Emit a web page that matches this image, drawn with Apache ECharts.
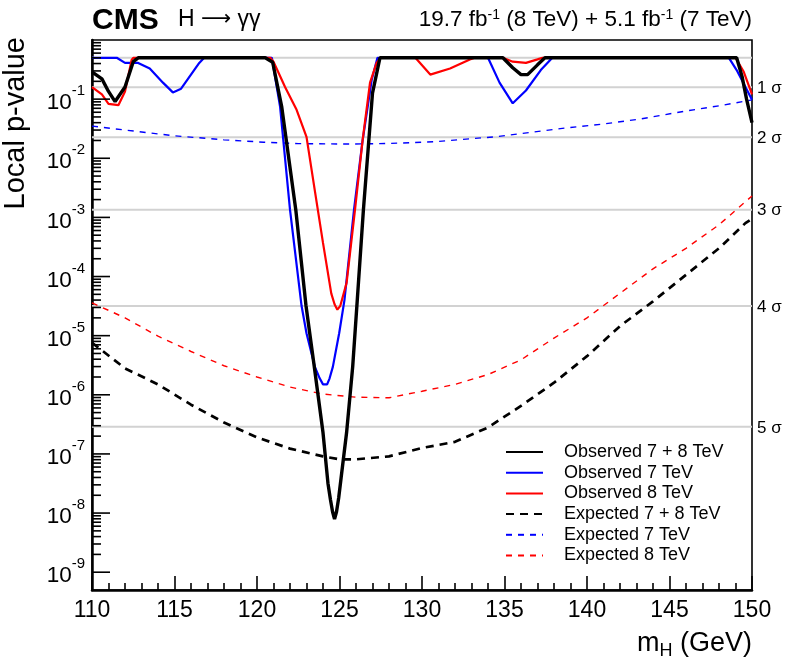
<!DOCTYPE html>
<html><head><meta charset="utf-8">
<script src="https://cdn.jsdelivr.net/npm/echarts@6/dist/echarts.min.js"></script>
<style>html,body{margin:0;padding:0;background:#fff}#c{width:786px;height:671px}</style>
</head><body><div id="c"></div>
<script>
// ---------- data (mass in GeV, local p-value) ----------
const massObs78 = [110,110.6,111.0,111.4,112.0,112.5,112.8,120.5,120.95,121.5,122.35,122.97,123.47,124.0,124.3,124.45,124.58,124.7,124.82,124.95,125.1,125.43,125.8,126.08,126.45,127.0,127.45,134.9,135.5,136.0,136.4,137.0,137.45,149.07,149.4,149.67,150];
const pObs78    = [0.29,0.22,0.135,0.091,0.16,0.43,0.5,0.5,0.42,0.074,1.35e-3,3.2e-5,3.0e-6,2.3e-7,3.2e-8,1.7e-8,1.05e-8,7.9e-9,1.05e-8,1.8e-8,4.0e-8,2.3e-7,3.0e-6,4.1e-5,1.35e-3,0.126,0.5,0.5,0.34,0.26,0.26,0.38,0.5,0.5,0.24,0.10,0.04];

const massObs7 = [110,111.5,112.0,112.8,113.5,114.3,114.9,115.4,116.5,116.8,120.9,121.4,122.0,122.7,123.0,123.5,123.8,124.0,124.12,124.25,124.4,124.6,124.98,125.3,125.88,126.4,126.95,127.3,134.0,134.7,135.5,136.3,137.2,137.9,148.6,149.07,150];
const pObs7    = [0.5,0.5,0.41,0.41,0.33,0.19,0.13,0.15,0.41,0.5,0.5,0.074,1.35e-3,3.2e-5,1.1e-5,3.0e-6,1.9e-6,1.5e-6,1.4e-6,1.5e-6,1.9e-6,3.0e-6,1.1e-5,4.0e-5,1.35e-3,0.02,0.21,0.5,0.5,0.19,0.085,0.14,0.31,0.5,0.5,0.31,0.098];

const massObs8 = [110,110.6,111.0,111.6,112.0,112.4,112.5,120.8,121.0,121.7,122.4,123.0,123.5,124.0,124.5,124.7,124.87,125.05,125.43,125.94,126.4,126.85,127.25,127.5,129.6,130.5,131.7,132.9,133.2,134.9,135.5,136.3,137.0,137.3,149.0,149.5,150];
const pObs8    = [0.16,0.12,0.083,0.079,0.135,0.46,0.5,0.5,0.43,0.16,0.066,0.023,2.9e-3,3.7e-4,5.2e-5,3.4e-5,2.75e-5,3.2e-5,7.8e-5,1.35e-3,0.020,0.19,0.41,0.5,0.5,0.26,0.33,0.47,0.5,0.5,0.43,0.41,0.47,0.5,0.5,0.29,0.12];

const massExp = [110,112,114,116,118,120,122,124,125,126,128,130,132,134,136,138,140,142,144,146,148,149.6,150];
const pExp78  = [7.6e-6,2.8e-6,1.5e-6,6.8e-7,3.4e-7,1.9e-7,1.23e-7,9.1e-8,8.1e-8,8.1e-8,9.1e-8,1.26e-7,1.6e-7,2.8e-7,6.5e-7,1.6e-6,4.5e-6,1.45e-5,3.8e-5,1.07e-4,3.0e-4,8.0e-4,9.5e-4];

const massExp8 = [110,112,114,116,118,120,122,124,126,128,130,132,134,136,138,140,142,144,146,148,150];
const pExp8    = [3.6e-5,2.0e-5,9.8e-6,5.4e-6,3.1e-6,2.0e-6,1.35e-6,1.03e-6,9.1e-7,8.9e-7,1.15e-6,1.5e-6,2.2e-6,3.9e-6,9.1e-6,2.0e-5,5.2e-5,1.35e-4,3.0e-4,7.5e-4,2.3e-3];

const massExp7 = [110,112,115,118,120.4,122.5,125.5,128,130.7,134.6,138.5,141,143.2,146,148,150];
const pExp7    = [0.035,0.030,0.024,0.0205,0.0187,0.0177,0.0174,0.0178,0.019,0.0233,0.032,0.038,0.046,0.063,0.077,0.097];

const seriesNames = ['Observed 7 + 8 TeV','Observed 7 TeV','Observed 8 TeV','Expected 7 + 8 TeV','Expected 7 TeV','Expected 8 TeV'];

const sigmaP      = [0.5, 0.1587, 0.02275, 1.35e-3, 3.17e-5, 2.87e-7];
const sigmaLabels = ['', '1 σ', '2 σ', '3 σ', '4 σ', '5 σ'];

const xTicks = [110,115,120,125,130,135,140,145,150];
const yDecades = [-9,-8,-7,-6,-5,-4,-3,-2,-1];

// ---------- build ----------
const zip = (a, b) => a.map((v, i) => [v, b[i]]);
const FONT = '"Liberation Sans", Arial, Helvetica, sans-serif';
const X_MIN = xTicks[0], X_MAX = xTicks[xTicks.length - 1];

// y tick marks (major at decades, minor at 2..9 x decade)
const yTickData = [];
yDecades.forEach(e => {
  yTickData.push([X_MIN, Math.pow(10, e), 1]);
  for (let k = 2; k <= 9; k++) yTickData.push([X_MIN, k * Math.pow(10, e), 0]);
});

const chart = echarts.init(document.getElementById('c'), null, {renderer: 'canvas'});

const option = {
  animation: false,
  backgroundColor: '#fff',
  grid: {left: 92, right: 34, top: 40, bottom: 81, show: true, borderColor: '#000', borderWidth: 1.6, backgroundColor: 'transparent'},
  xAxis: {
    type: 'value', min: X_MIN, max: X_MAX, interval: 5,
    axisLine: {show: true, onZero: false, lineStyle: {color: '#000', width: 2.5}},
    axisTick: {show: true, inside: true, length: 14, lineStyle: {color: '#000', width: 1.6}},
    minorTick: {show: true, splitNumber: 5, length: 7, lineStyle: {color: '#000', width: 1.6}},
    splitLine: {show: false},
    axisLabel: {color: '#000', fontSize: 23, fontFamily: FONT, margin: 9}
  },
  yAxis: {
    type: 'log', logBase: 10, min: 5e-10, max: 1, splitNumber: 10,
    axisLine: {show: true, lineStyle: {color: '#000', width: 2.5}},
    axisTick: {show: false},
    splitLine: {show: false},
    axisLabel: {
      color: '#000', margin: 7,
      formatter: v => {
        const l = Math.log10(v), e = Math.round(l);
        if (Math.abs(l - e) > 1e-6 || e === 0) return '';
        return '{b|10}{s|' + e + '}';
      },
      rich: {
        b: {fontSize: 22.5, fontFamily: FONT, color: '#000', padding: [8, 0, 0, 0]},
        s: {fontSize: 15, fontFamily: FONT, color: '#000', verticalAlign: 'top'}
      }
    }
  },
  legend: {
    orient: 'vertical', left: 505, top: 443, padding: 0, itemGap: 2.7,
    itemWidth: 37, itemHeight: 14,
    data: seriesNames,
    itemStyle: {opacity: 0},
    textStyle: {fontSize: 18, fontFamily: FONT, color: '#000', lineHeight: 18, padding: [0, 0, 0, 16]}
  },
  graphic: [
    {type: 'text', left: 92, top: 6, style: {text: 'CMS', font: 'bold 30px ' + FONT, fill: '#000'}},
    {type: 'text', left: 178, top: 8, style: {
      text: '{t|H }{a|\u27f6}{t| \u03b3\u03b3}', font: '23px ' + FONT, fill: '#000',
      rich: {
        t: {fontSize: 23, fontFamily: FONT, fill: '#000'},
        a: {fontSize: 21, fontFamily: '"DejaVu Sans", sans-serif', fill: '#000'}
      }
    }},
    {type: 'text', right: 34, top: 8, style: {
      text: '19.7 fb{s|-1} (8 TeV) + 5.1 fb{s|-1} (7 TeV)', font: '22.5px ' + FONT, fill: '#000',
      rich: {s: {fontSize: 14, fontFamily: FONT, fill: '#000', verticalAlign: 'top'}}
    }},
    {type: 'text', x: 16, y: 37, rotation: Math.PI / 2, style: {text: 'Local p-value', font: '29px ' + FONT, fill: '#000', align: 'right', verticalAlign: 'middle'}},
    {type: 'text', right: 34, top: 630, style: {
      text: 'm{sub|H} (GeV)', font: '27px ' + FONT, fill: '#000',
      rich: {sub: {fontSize: 18, fontFamily: FONT, fill: '#000', verticalAlign: 'bottom', padding: [16, 0, 0, 0]}}
    }}
  ],
  series: [
    {
      name: 'sigma', type: 'custom', z: 1, silent: true, clip: false,
      data: sigmaP.map(v => [X_MAX, v]),
      renderItem: (params, api) => {
        const a = api.coord([X_MIN, api.value(1)]);
        const b = api.coord([X_MAX, api.value(1)]);
        return {type: 'group', children: [
          {type: 'line', shape: {x1: a[0], y1: a[1], x2: b[0], y2: b[1]}, style: {stroke: '#d2d2d2', lineWidth: 2}},
          {type: 'text', x: b[0] + 5, y: b[1] + 1, style: {text: sigmaLabels[params.dataIndex], fill: '#000', font: '17px ' + FONT, align: 'left', verticalAlign: 'middle'}}
        ]};
      }
    },
    {
      name: 'yticks', type: 'custom', z: 10, silent: true, clip: false,
      data: yTickData,
      renderItem: (params, api) => {
        const pt = api.coord([api.value(0), api.value(1)]);
        const len = api.value(2) ? 18 : 9;
        return {type: 'line', shape: {x1: pt[0], y1: pt[1], x2: pt[0] + len, y2: pt[1]},
                style: {stroke: '#000', lineWidth: 1.6}};
      }
    },
    {name: seriesNames[4], type: 'line', z: 3, symbol: 'none', data: zip(massExp7, pExp7),
     lineStyle: {color: '#0000ff', width: 1.4, type: [6, 6]}, itemStyle: {color: '#0000ff'}},
    {name: seriesNames[5], type: 'line', z: 3, symbol: 'none', data: zip(massExp8, pExp8),
     lineStyle: {color: '#ff0000', width: 1.4, type: [6, 6]}, itemStyle: {color: '#ff0000'}},
    {name: seriesNames[3], type: 'line', z: 4, symbol: 'none', data: zip(massExp, pExp78),
     lineStyle: {color: '#000', width: 2.7, type: [8, 6]}, itemStyle: {color: '#000'}},
    {name: seriesNames[1], type: 'line', z: 5, symbol: 'none', data: zip(massObs7, pObs7),
     lineStyle: {color: '#0000ff', width: 2.2}, itemStyle: {color: '#0000ff'}},
    {name: seriesNames[2], type: 'line', z: 5, symbol: 'none', data: zip(massObs8, pObs8),
     lineStyle: {color: '#ff0000', width: 2.2}, itemStyle: {color: '#ff0000'}},
    {name: seriesNames[0], type: 'line', z: 6, symbol: 'none', data: zip(massObs78, pObs78),
     lineStyle: {color: '#000', width: 3.4}, itemStyle: {color: '#000'}}
  ]
};
chart.setOption(option);
</script>
</body></html>
